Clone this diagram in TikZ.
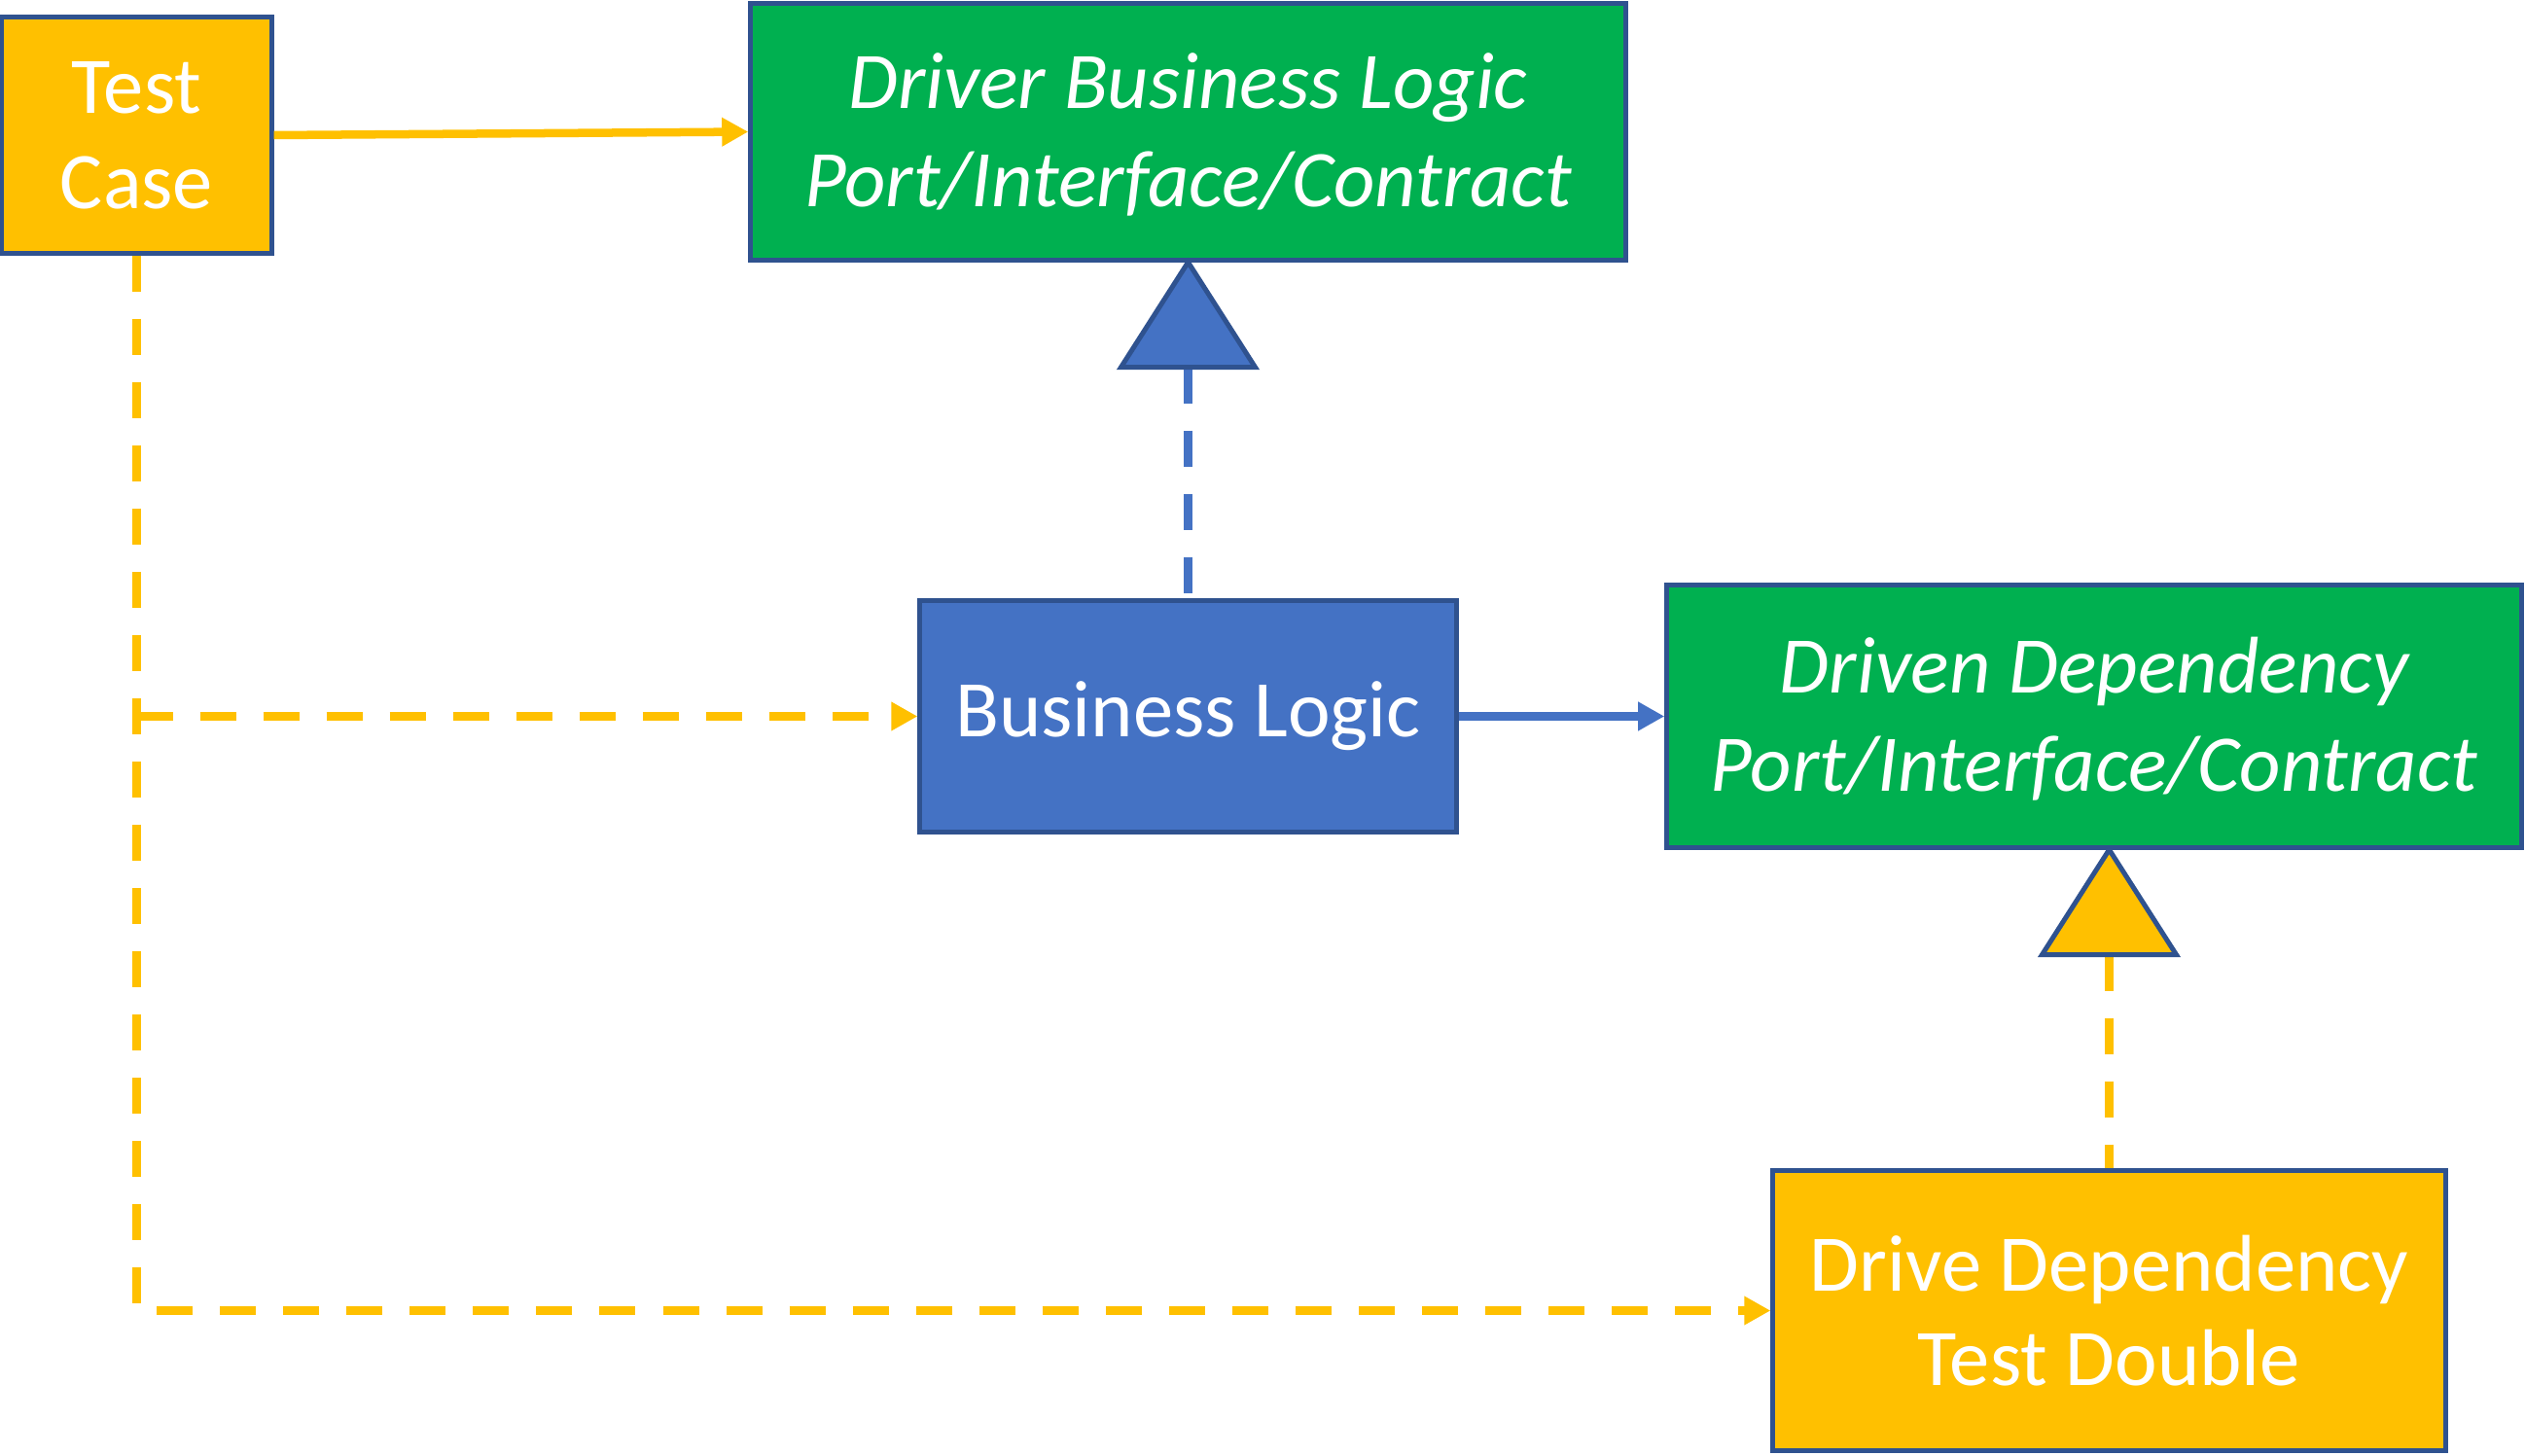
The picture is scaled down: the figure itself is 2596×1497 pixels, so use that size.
\documentclass[tikz,border=0pt]{standalone}
\usepackage{fontspec}
\setmainfont{Carlito}
\usetikzlibrary{arrows.meta,calc}
\definecolor{yel}{HTML}{FFC000}
\definecolor{grn}{HTML}{00B050}
\definecolor{blu}{HTML}{4472C4}
\definecolor{bdr}{HTML}{2F528F}
\newcommand\gtxt[1]{\raisebox{-0.065cm}[\height][\depth]{\begin{tabular}{@{}c@{}}#1\end{tabular}}}
\begin{document}
\begin{tikzpicture}[x=0.01cm,y=-0.01cm,
  box/.style={draw=bdr,line width=0.05cm,text=white,align=center,inner sep=0pt,
    font=\fontsize{23.5}{27.8}\selectfont},
  ybox/.style={box,fill=yel},
  gbox/.style={box,fill=grn,font=\fontsize{23.5}{28.6}\selectfont\itshape},
  bbox/.style={box,fill=blu},
  conn/.style={line width=0.085cm,-{Triangle[length=0.27cm,width=0.28cm]}},
  dashconn/.style={conn,dash pattern=on 0.37cm off 0.28cm},
  realize/.style={draw=bdr,line width=0.05cm},
  realline/.style={line width=0.085cm,dash pattern=on 0.37cm off 0.28cm}]
\useasboundingbox (0,0) rectangle (2596,1497);

\node[ybox,minimum width=2.77cm,minimum height=2.42cm] (tc) at (140.5,139) {Test\\Case};
\node[gbox,minimum width=8.99cm,minimum height=2.63cm] (drv) at (1221.5,135.5) {\gtxt{Driver Business Logic\\Port/Interface/Contract}};
\node[bbox,minimum width=5.51cm,minimum height=2.37cm] (bl) at (1221.5,736.5) {Business Logic};
\node[gbox,minimum width=8.78cm,minimum height=2.69cm] (dvn) at (2153,736.5) {\gtxt{Driven Dependency\\Port/Interface/Contract}};
\node[ybox,minimum width=6.91cm,minimum height=2.87cm] (td) at (2168.5,1347.5) {Drive Dependency\\Test Double};

% realization: Business Logic -> Driver port
\coordinate (t1) at ($(drv.south)+(0,108)$);
\draw[realline,blu] (t1) -- (bl.north);
\draw[realize,fill=blu] (drv.south) -- ($(t1)+(-69,0)$) -- ($(t1)+(69,0)$) -- cycle;

% realization: Test Double -> Driven port
\coordinate (t2) at ($(td.north |- dvn.south)+(0,108)$);
\draw[realline,yel] (t2) -- (td.north);
\draw[realize,fill=yel] (td.north |- dvn.south) -- ($(t2)+(-69,0)$) -- ($(t2)+(69,0)$) -- cycle;

% solid arrows
\draw[conn,yel] (tc.east) -- (drv.west);
\draw[conn,blu] (bl.east) -- (dvn.west);

% dashed arrows from test case
\draw[dashconn,yel] (tc.south) -- (tc.south |- td.west) -- (td.west);
\draw[dashconn,yel] (tc.south |- bl.west) -- (bl.west);
\end{tikzpicture}
\end{document}
